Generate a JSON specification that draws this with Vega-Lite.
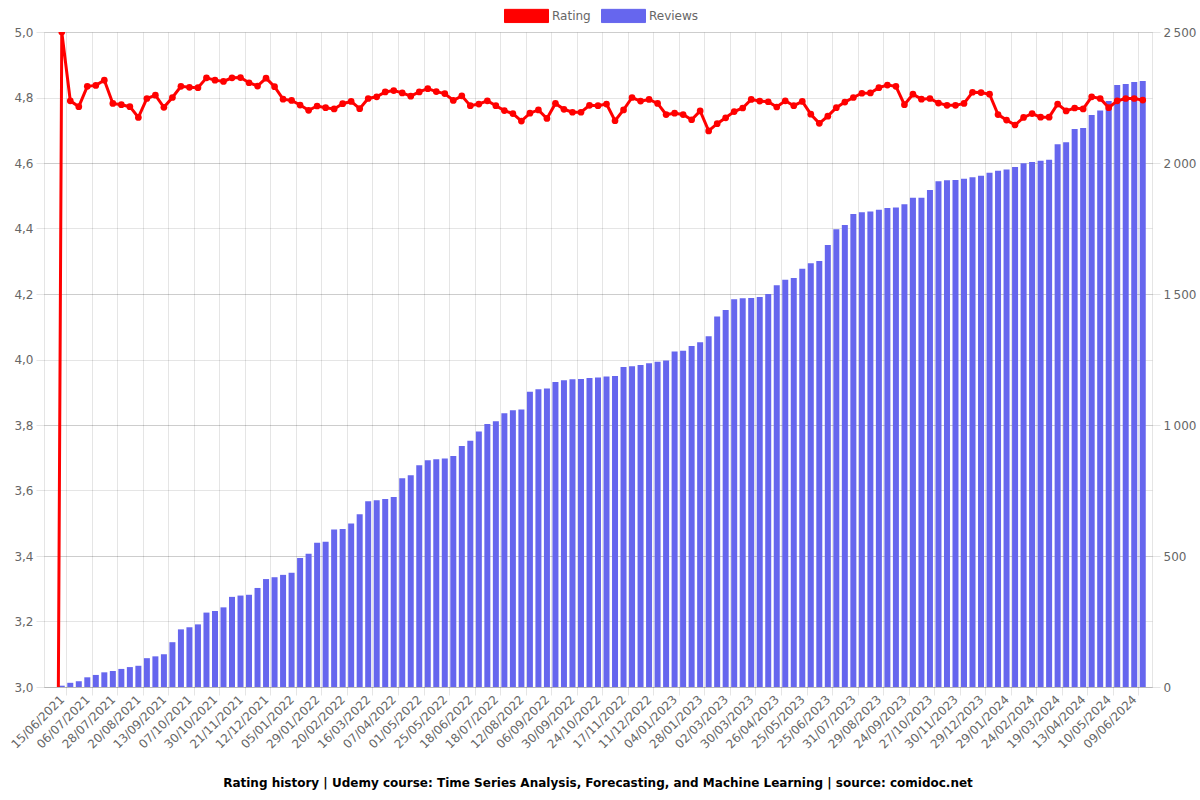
{
  "$schema": "https://vega.github.io/schema/vega-lite/v6.json",
  "width": 1108,
  "height": 655,
  "autosize": {"type": "none"},
  "padding": {"left": 44, "top": 32, "right": 48, "bottom": 113},
  "background": "white",
  "config": {
    "view": {"stroke": null},
    "font": "DejaVu Sans"
  },
  "title": {
    "text": "Rating history | Udemy course: Time Series Analysis, Forecasting, and Machine Learning | source: comidoc.net",
    "orient": "bottom",
    "anchor": "middle",
    "font": "DejaVu Sans",
    "fontSize": 12,
    "fontWeight": "bold",
    "color": "#000",
    "offset": 28
  },
  "data": {"values": [
    {"i": -1, "date": "08/06/2021", "rating": 0, "reviews": null},
    {"i": 0, "date": "15/06/2021", "rating": 5.0, "reviews": 5},
    {"i": 1, "date": "22/06/2021", "rating": 4.790, "reviews": 16},
    {"i": 2, "date": "29/06/2021", "rating": 4.772, "reviews": 22},
    {"i": 3, "date": "06/07/2021", "rating": 4.834, "reviews": 37},
    {"i": 4, "date": "13/07/2021", "rating": 4.837, "reviews": 46},
    {"i": 5, "date": "20/07/2021", "rating": 4.853, "reviews": 56},
    {"i": 6, "date": "28/07/2021", "rating": 4.782, "reviews": 61},
    {"i": 7, "date": "04/08/2021", "rating": 4.778, "reviews": 69},
    {"i": 8, "date": "12/08/2021", "rating": 4.772, "reviews": 76},
    {"i": 9, "date": "20/08/2021", "rating": 4.739, "reviews": 81},
    {"i": 10, "date": "28/08/2021", "rating": 4.797, "reviews": 110},
    {"i": 11, "date": "05/09/2021", "rating": 4.807, "reviews": 117},
    {"i": 12, "date": "13/09/2021", "rating": 4.770, "reviews": 125},
    {"i": 13, "date": "21/09/2021", "rating": 4.800, "reviews": 171},
    {"i": 14, "date": "29/09/2021", "rating": 4.834, "reviews": 220},
    {"i": 15, "date": "07/10/2021", "rating": 4.831, "reviews": 228},
    {"i": 16, "date": "15/10/2021", "rating": 4.830, "reviews": 239},
    {"i": 17, "date": "22/10/2021", "rating": 4.860, "reviews": 284},
    {"i": 18, "date": "30/10/2021", "rating": 4.853, "reviews": 290},
    {"i": 19, "date": "06/11/2021", "rating": 4.849, "reviews": 304},
    {"i": 20, "date": "13/11/2021", "rating": 4.860, "reviews": 344},
    {"i": 21, "date": "21/11/2021", "rating": 4.861, "reviews": 349},
    {"i": 22, "date": "28/11/2021", "rating": 4.845, "reviews": 352},
    {"i": 23, "date": "05/12/2021", "rating": 4.835, "reviews": 378},
    {"i": 24, "date": "12/12/2021", "rating": 4.859, "reviews": 412},
    {"i": 25, "date": "20/12/2021", "rating": 4.833, "reviews": 419},
    {"i": 26, "date": "28/12/2021", "rating": 4.795, "reviews": 428},
    {"i": 27, "date": "05/01/2022", "rating": 4.791, "reviews": 436},
    {"i": 28, "date": "13/01/2022", "rating": 4.777, "reviews": 492},
    {"i": 29, "date": "21/01/2022", "rating": 4.761, "reviews": 509},
    {"i": 30, "date": "29/01/2022", "rating": 4.774, "reviews": 551},
    {"i": 31, "date": "05/02/2022", "rating": 4.769, "reviews": 554},
    {"i": 32, "date": "12/02/2022", "rating": 4.765, "reviews": 601},
    {"i": 33, "date": "20/02/2022", "rating": 4.781, "reviews": 603},
    {"i": 34, "date": "28/02/2022", "rating": 4.788, "reviews": 624},
    {"i": 35, "date": "08/03/2022", "rating": 4.766, "reviews": 659},
    {"i": 36, "date": "16/03/2022", "rating": 4.797, "reviews": 709},
    {"i": 37, "date": "23/03/2022", "rating": 4.802, "reviews": 713},
    {"i": 38, "date": "30/03/2022", "rating": 4.817, "reviews": 718},
    {"i": 39, "date": "07/04/2022", "rating": 4.821, "reviews": 725},
    {"i": 40, "date": "15/04/2022", "rating": 4.814, "reviews": 797},
    {"i": 41, "date": "23/04/2022", "rating": 4.804, "reviews": 808},
    {"i": 42, "date": "01/05/2022", "rating": 4.817, "reviews": 846},
    {"i": 43, "date": "09/05/2022", "rating": 4.827, "reviews": 865},
    {"i": 44, "date": "17/05/2022", "rating": 4.818, "reviews": 869},
    {"i": 45, "date": "25/05/2022", "rating": 4.812, "reviews": 872},
    {"i": 46, "date": "02/06/2022", "rating": 4.791, "reviews": 882},
    {"i": 47, "date": "10/06/2022", "rating": 4.805, "reviews": 920},
    {"i": 48, "date": "18/06/2022", "rating": 4.775, "reviews": 940},
    {"i": 49, "date": "28/06/2022", "rating": 4.780, "reviews": 975},
    {"i": 50, "date": "08/07/2022", "rating": 4.790, "reviews": 1004},
    {"i": 51, "date": "18/07/2022", "rating": 4.775, "reviews": 1014},
    {"i": 52, "date": "26/07/2022", "rating": 4.760, "reviews": 1045},
    {"i": 53, "date": "03/08/2022", "rating": 4.751, "reviews": 1056},
    {"i": 54, "date": "12/08/2022", "rating": 4.728, "reviews": 1059},
    {"i": 55, "date": "20/08/2022", "rating": 4.752, "reviews": 1127},
    {"i": 56, "date": "28/08/2022", "rating": 4.762, "reviews": 1136},
    {"i": 57, "date": "06/09/2022", "rating": 4.736, "reviews": 1139},
    {"i": 58, "date": "14/09/2022", "rating": 4.782, "reviews": 1164},
    {"i": 59, "date": "22/09/2022", "rating": 4.764, "reviews": 1171},
    {"i": 60, "date": "30/09/2022", "rating": 4.755, "reviews": 1175},
    {"i": 61, "date": "08/10/2022", "rating": 4.755, "reviews": 1176},
    {"i": 62, "date": "16/10/2022", "rating": 4.776, "reviews": 1179},
    {"i": 63, "date": "24/10/2022", "rating": 4.775, "reviews": 1181},
    {"i": 64, "date": "01/11/2022", "rating": 4.780, "reviews": 1185},
    {"i": 65, "date": "09/11/2022", "rating": 4.729, "reviews": 1187},
    {"i": 66, "date": "17/11/2022", "rating": 4.762, "reviews": 1221},
    {"i": 67, "date": "25/11/2022", "rating": 4.800, "reviews": 1224},
    {"i": 68, "date": "03/12/2022", "rating": 4.789, "reviews": 1229},
    {"i": 69, "date": "11/12/2022", "rating": 4.794, "reviews": 1236},
    {"i": 70, "date": "19/12/2022", "rating": 4.782, "reviews": 1241},
    {"i": 71, "date": "27/12/2022", "rating": 4.748, "reviews": 1246},
    {"i": 72, "date": "04/01/2023", "rating": 4.752, "reviews": 1281},
    {"i": 73, "date": "12/01/2023", "rating": 4.748, "reviews": 1283},
    {"i": 74, "date": "20/01/2023", "rating": 4.732, "reviews": 1302},
    {"i": 75, "date": "28/01/2023", "rating": 4.759, "reviews": 1316},
    {"i": 76, "date": "08/02/2023", "rating": 4.698, "reviews": 1339},
    {"i": 77, "date": "19/02/2023", "rating": 4.720, "reviews": 1414},
    {"i": 78, "date": "02/03/2023", "rating": 4.738, "reviews": 1439},
    {"i": 79, "date": "11/03/2023", "rating": 4.757, "reviews": 1480},
    {"i": 80, "date": "20/03/2023", "rating": 4.768, "reviews": 1484},
    {"i": 81, "date": "30/03/2023", "rating": 4.794, "reviews": 1485},
    {"i": 82, "date": "08/04/2023", "rating": 4.789, "reviews": 1489},
    {"i": 83, "date": "17/04/2023", "rating": 4.787, "reviews": 1500},
    {"i": 84, "date": "26/04/2023", "rating": 4.771, "reviews": 1533},
    {"i": 85, "date": "06/05/2023", "rating": 4.790, "reviews": 1554},
    {"i": 86, "date": "15/05/2023", "rating": 4.775, "reviews": 1561},
    {"i": 87, "date": "25/05/2023", "rating": 4.788, "reviews": 1596},
    {"i": 88, "date": "04/06/2023", "rating": 4.749, "reviews": 1617},
    {"i": 89, "date": "14/06/2023", "rating": 4.721, "reviews": 1626},
    {"i": 90, "date": "25/06/2023", "rating": 4.743, "reviews": 1687},
    {"i": 91, "date": "07/07/2023", "rating": 4.769, "reviews": 1747},
    {"i": 92, "date": "19/07/2023", "rating": 4.786, "reviews": 1763},
    {"i": 93, "date": "31/07/2023", "rating": 4.800, "reviews": 1805},
    {"i": 94, "date": "09/08/2023", "rating": 4.813, "reviews": 1812},
    {"i": 95, "date": "19/08/2023", "rating": 4.814, "reviews": 1815},
    {"i": 96, "date": "29/08/2023", "rating": 4.830, "reviews": 1822},
    {"i": 97, "date": "06/09/2023", "rating": 4.838, "reviews": 1828},
    {"i": 98, "date": "15/09/2023", "rating": 4.834, "reviews": 1830},
    {"i": 99, "date": "24/09/2023", "rating": 4.778, "reviews": 1843},
    {"i": 100, "date": "05/10/2023", "rating": 4.810, "reviews": 1867},
    {"i": 101, "date": "16/10/2023", "rating": 4.795, "reviews": 1867},
    {"i": 102, "date": "27/10/2023", "rating": 4.797, "reviews": 1897},
    {"i": 103, "date": "07/11/2023", "rating": 4.783, "reviews": 1930},
    {"i": 104, "date": "18/11/2023", "rating": 4.776, "reviews": 1934},
    {"i": 105, "date": "30/11/2023", "rating": 4.776, "reviews": 1935},
    {"i": 106, "date": "09/12/2023", "rating": 4.782, "reviews": 1940},
    {"i": 107, "date": "19/12/2023", "rating": 4.816, "reviews": 1946},
    {"i": 108, "date": "29/12/2023", "rating": 4.815, "reviews": 1951},
    {"i": 109, "date": "08/01/2024", "rating": 4.810, "reviews": 1963},
    {"i": 110, "date": "18/01/2024", "rating": 4.748, "reviews": 1970},
    {"i": 111, "date": "29/01/2024", "rating": 4.731, "reviews": 1975},
    {"i": 112, "date": "06/02/2024", "rating": 4.716, "reviews": 1985},
    {"i": 113, "date": "15/02/2024", "rating": 4.739, "reviews": 1999},
    {"i": 114, "date": "24/02/2024", "rating": 4.751, "reviews": 2004},
    {"i": 115, "date": "03/03/2024", "rating": 4.740, "reviews": 2009},
    {"i": 116, "date": "11/03/2024", "rating": 4.740, "reviews": 2012},
    {"i": 117, "date": "19/03/2024", "rating": 4.780, "reviews": 2072},
    {"i": 118, "date": "27/03/2024", "rating": 4.759, "reviews": 2079},
    {"i": 119, "date": "04/04/2024", "rating": 4.768, "reviews": 2130},
    {"i": 120, "date": "13/04/2024", "rating": 4.765, "reviews": 2134},
    {"i": 121, "date": "22/04/2024", "rating": 4.802, "reviews": 2183},
    {"i": 122, "date": "01/05/2024", "rating": 4.797, "reviews": 2200},
    {"i": 123, "date": "10/05/2024", "rating": 4.769, "reviews": 2237},
    {"i": 124, "date": "20/05/2024", "rating": 4.790, "reviews": 2298},
    {"i": 125, "date": "30/05/2024", "rating": 4.797, "reviews": 2302},
    {"i": 126, "date": "09/06/2024", "rating": 4.797, "reviews": 2309},
    {"i": 127, "date": "16/06/2024", "rating": 4.792, "reviews": 2313}
  ]},
  "encoding": {
    "x": {
      "field": "i",
      "type": "quantitative",
      "scale": {"domain": [-1.5, 127.5], "nice": false, "zero": false},
      "axis": {
        "title": null,
        "values": [0.5,3.5,6.5,9.5,12.5,15.5,18.5,21.5,24.5,27.5,30.5,33.5,36.5,39.5,42.5,45.5,48.5,51.5,54.5,57.5,60.5,63.5,66.5,69.5,72.5,75.5,78.5,81.5,84.5,87.5,90.5,93.5,96.5,99.5,102.5,105.5,108.5,111.5,114.5,117.5,120.5,123.5,126.5],
        "labelExpr": "['15/06/2021','06/07/2021','28/07/2021','20/08/2021','13/09/2021','07/10/2021','30/10/2021','21/11/2021','12/12/2021','05/01/2022','29/01/2022','20/02/2022','16/03/2022','07/04/2022','01/05/2022','25/05/2022','18/06/2022','18/07/2022','12/08/2022','06/09/2022','30/09/2022','24/10/2022','17/11/2022','11/12/2022','04/01/2023','28/01/2023','02/03/2023','30/03/2023','26/04/2023','25/05/2023','25/06/2023','31/07/2023','29/08/2023','24/09/2023','27/10/2023','30/11/2023','29/12/2023','29/01/2024','24/02/2024','19/03/2024','13/04/2024','10/05/2024','09/06/2024'][round((datum.value - 0.5) / 3)]",
        "labelAngle": -45,
        "labelAlign": "right",
        "labelBaseline": "middle",
        "labelOffset": -4.3,
        "labelOverlap": false,
        "labelBound": false,
        "labelFlush": false,
        "labelPadding": 2,
        "labelColor": "#666",
        "labelFont": "DejaVu Sans",
        "labelFontSize": 12,
        "grid": true,
        "gridColor": "rgba(0,0,0,0.1)",
        "tickSize": 8,
        "tickColor": "rgba(0,0,0,0.1)",
        "domainColor": "rgba(0,0,0,0.1)"
      }
    },
    "color": {
      "datum": "Reviews",
      "scale": {"domain": ["Rating", "Reviews"], "range": ["#ff0000", "#6666ee"]},
      "legend": {
        "title": null,
        "orient": "none",
        "legendX": 460,
        "legendY": -39,
        "direction": "horizontal",
        "symbolType": "M-1,-0.3H1V0.3H-1Z",
        "symbolSize": 1936,
        "symbolStrokeWidth": 1,
        "labelFont": "DejaVu Sans",
        "labelFontSize": 12,
        "labelColor": "#666",
        "labelOffset": 3,
        "columnPadding": 8,
        "encode": {
          "symbols": {"update": {
            "fill": {"scale": "color", "field": "value"},
            "stroke": {"scale": "color", "field": "value"},
            "opacity": {"value": 1},
            "fillOpacity": {"value": 1}
          }}
        }
      }
    }
  },
  "layer": [
    {
      "mark": {"type": "bar", "size": 6, "clip": true},
      "encoding": {
        "y": {
          "field": "reviews",
          "type": "quantitative",
          "scale": {"domain": [0, 2500], "nice": false},
          "axis": {
            "orient": "right",
            "title": null,
            "values": [0, 500, 1000, 1500, 2000, 2500],
            "labelExpr": "replace(format(datum.value, ','), ',', '\u202f')",
            "grid": true,
            "gridColor": "rgba(0,0,0,0.1)",
            "tickSize": 8,
            "tickColor": "rgba(0,0,0,0.1)",
            "domainColor": "rgba(0,0,0,0.1)",
            "labelColor": "#666",
            "labelFont": "DejaVu Sans",
            "labelFontSize": 12,
            "labelPadding": 3
          }
        },
        "color": {"datum": "Reviews"}
      }
    },
    {
      "mark": {"type": "line", "strokeWidth": 3, "clip": true, "point": {"filled": true, "size": 45}},
      "encoding": {
        "y": {
          "field": "rating",
          "type": "quantitative",
          "scale": {"domain": [3, 5], "nice": false, "zero": false},
          "axis": {
            "orient": "left",
            "title": null,
            "values": [3, 3.2, 3.4, 3.6, 3.8, 4, 4.2, 4.4, 4.6, 4.8, 5],
            "labelExpr": "replace(format(datum.value, '.1f'), '.', ',')",
            "grid": true,
            "gridColor": "rgba(0,0,0,0.1)",
            "tickSize": 8,
            "tickColor": "rgba(0,0,0,0.1)",
            "domainColor": "rgba(0,0,0,0.1)",
            "labelColor": "#666",
            "labelFont": "DejaVu Sans",
            "labelFontSize": 12,
            "labelPadding": 3
          }
        },
        "color": {"datum": "Rating"}
      }
    }
  ],
  "resolve": {"scale": {"y": "independent"}, "axis": {"y": "independent"}}
}
